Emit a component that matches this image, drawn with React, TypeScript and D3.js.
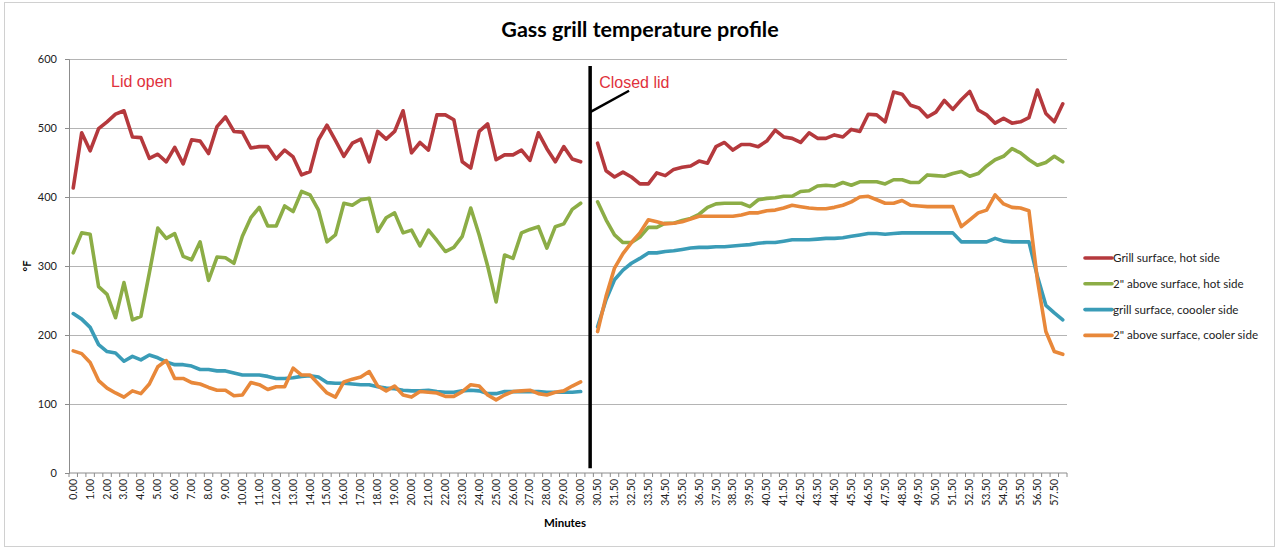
import * as d3 from "d3";
import { useEffect, useRef } from "react";

// Minutes since start; 30.25 is the empty gap where the lid was closed
const MINUTES = [
  0, 0.5, 1, 1.5, 2, 2.5, 3, 3.5, 4, 4.5, 5, 5.5, 6, 6.5, 7, 7.5, 8, 8.5, 9, 9.5,
  10, 10.5, 11, 11.5, 12, 12.5, 13, 13.5, 14, 14.5, 15, 15.5, 16, 16.5, 17, 17.5,
  18, 18.5, 19, 19.5, 20, 20.5, 21, 21.5, 22, 22.5, 23, 23.5, 24, 24.5, 25, 25.5,
  26, 26.5, 27, 27.5, 28, 28.5, 29, 29.5, 30, 30.25,
  30.5, 31, 31.5, 32, 32.5, 33, 33.5, 34, 34.5, 35, 35.5, 36, 36.5, 37, 37.5, 38,
  38.5, 39, 39.5, 40, 40.5, 41, 41.5, 42, 42.5, 43, 43.5, 44, 44.5, 45, 45.5, 46,
  46.5, 47, 47.5, 48, 48.5, 49, 49.5, 50, 50.5, 51, 51.5, 52, 52.5, 53, 53.5, 54,
  54.5, 55, 55.5, 56, 56.5, 57, 57.5, 58,
];

const GRILL_HOT = [
  413, 493, 467, 499, 509, 520, 525, 487, 486, 456, 462, 451, 472, 448, 483, 481,
  463, 502, 516, 495, 494, 471, 473, 473, 455, 468, 458, 432, 437, 483, 504, 482,
  459, 478, 484, 451, 495, 484, 495, 525, 464, 479, 468, 519, 519, 512, 451, 442,
  495, 506, 454, 461, 461, 468, 453, 493, 470, 451, 473, 455, 451, null,
  478, 438, 429, 436, 429, 419, 419, 435, 431, 440, 443, 445, 452, 449, 473, 479,
  468, 476, 476, 473, 481, 497, 487, 485, 479, 493, 485, 485, 490, 487, 498, 495,
  520, 519, 509, 552, 549, 533, 529, 516, 523, 540, 527, 541, 553, 526, 519, 507,
  514, 507, 509, 515, 555, 521, 509, 535,
];

const ABOVE_HOT = [
  319, 348, 346, 270, 259, 225, 276, 222, 227, 290, 355, 340, 347, 314, 309, 335,
  279, 313, 312, 304, 343, 370, 385, 358, 358, 387, 379, 408, 403, 381, 335, 345,
  391, 388, 396, 398, 350, 370, 377, 348, 352, 329, 352, 337, 321, 327, 343, 384,
  345, 300, 248, 316, 311, 348, 353, 357, 326, 357, 361, 382, 391, null,
  393, 367, 345, 334, 334, 342, 356, 356, 362, 362, 366, 369, 375, 385, 390, 391,
  391, 391, 386, 396, 398, 399, 401, 401, 408, 409, 416, 417, 416, 421, 417, 422,
  422, 422, 419, 425, 425, 421, 421, 432, 431, 430, 434, 437, 430, 434, 445, 454,
  459, 470, 464, 454, 446, 450, 459, 451,
];

const GRILL_COOL = [
  231, 223, 211, 186, 176, 174, 162, 169, 164, 171, 167, 161, 157, 157, 155, 150,
  150, 148, 148, 145, 142, 142, 142, 140, 137, 137, 138, 140, 141, 139, 131, 130,
  130, 129, 128, 128, 125, 123, 122, 120, 119, 119, 120, 118, 117, 117, 119, 120,
  119, 115, 115, 118, 118, 118, 118, 118, 117, 117, 117, 117, 118, null,
  212, 251, 280, 294, 304, 311, 319, 319, 321, 322, 324, 326, 327, 327, 328, 328,
  329, 330, 331, 333, 334, 334, 336, 338, 338, 338, 339, 340, 340, 341, 343, 345,
  347, 347, 346, 347, 348, 348, 348, 348, 348, 348, 348, 335, 335, 335, 335, 340,
  336, 335, 335, 335, 285, 243, 232, 222,
];

const ABOVE_COOL = [
  177, 173, 160, 134, 123, 116, 110, 119, 115, 129, 154, 163, 137, 137, 131, 129,
  124, 120, 120, 112, 113, 131, 128, 121, 125, 125, 152, 142, 142, 129, 116, 110,
  132, 136, 139, 147, 126, 119, 126, 113, 110, 118, 117, 116, 111, 111, 118, 128,
  126, 113, 106, 113, 118, 119, 120, 115, 113, 117, 119, 126, 132, null,
  205, 256, 297, 318, 334, 348, 367, 364, 361, 362, 364, 368, 372, 372, 372, 372,
  372, 374, 377, 377, 380, 381, 384, 388, 386, 384, 383, 383, 385, 388, 393, 400,
  401, 396, 391, 391, 395, 388, 387, 386, 386, 386, 386, 357, 367, 377, 381, 403,
  390, 385, 384, 380, 280, 205, 176, 172,
];

const SERIES = [
  { name: "Grill surface, hot side", values: GRILL_HOT, color: "#b5393d" },
  { name: "2\" above surface, hot side", values: ABOVE_HOT, color: "#8cad46" },
  { name: "grill surface, coooler side", values: GRILL_COOL, color: "#3a9cb7" },
  { name: "2\" above surface, cooler side", values: ABOVE_COOL, color: "#e8883a" },
];

const Y_TICKS = [0, 100, 200, 300, 400, 500, 600];
const GAP_INDEX = 61;

const FONT = "Lato, 'Open Sans', sans-serif";

export default function App() {
  const svgRef = useRef<SVGSVGElement>(null);
  const width = 1280;
  const height = 550;

  useEffect(() => {
    if (!svgRef.current) return;
    const svg = d3.select(svgRef.current);
    svg.selectAll("*").remove();

    const m = { top: 59, right: 213, bottom: 77, left: 69 };
    const w = width - m.left - m.right;
    const h = height - m.top - m.bottom;

    // chart area frame
    svg
      .append("rect")
      .attr("x", 4.5)
      .attr("y", 2.5)
      .attr("width", 1270)
      .attr("height", 544)
      .attr("fill", "#fff")
      .attr("stroke", "#d0d0d0");

    const g = svg.append("g").attr("transform", `translate(${m.left},${m.top})`);

    const idx = MINUTES.map((_, i) => String(i));
    const x = d3.scaleBand<string>().domain(idx).range([0, w]).padding(0);
    const xc = (i: number) => (x(String(i)) ?? 0) + x.bandwidth() / 2;
    const y = d3.scaleLinear().domain([0, 600]).range([h, 0]);

    // horizontal gridlines
    g.append("g")
      .call(d3.axisLeft(y).tickValues(Y_TICKS.slice(1)).tickSize(-w).tickFormat(() => ""))
      .call((s) => s.selectAll("line").attr("stroke", "#b4b4b4").attr("stroke-width", 1))
      .call((s) => s.select("path.domain").remove());

    // y axis
    g.append("g")
      .call(d3.axisLeft(y).tickValues(Y_TICKS).tickSize(4).tickPadding(8))
      .call((s) => s.select("path.domain").attr("stroke", "#8c8c8c"))
      .call((s) => s.selectAll("line").attr("stroke", "#8c8c8c"))
      .selectAll("text")
      .attr("font-family", FONT)
      .attr("font-size", 11)
      .attr("fill", "#222");

    // x axis: tick between every category, label every other one
    const xAxis = g.append("g").attr("transform", `translate(0,${h})`);
    xAxis
      .append("line")
      .attr("x1", 0)
      .attr("x2", w)
      .attr("stroke", "#8c8c8c");
    xAxis
      .selectAll("line.tk")
      .data(d3.range(MINUTES.length + 1))
      .enter()
      .append("line")
      .attr("class", "tk")
      .attr("x1", (i) => i * x.step())
      .attr("x2", (i) => i * x.step())
      .attr("y1", 0)
      .attr("y2", 4)
      .attr("stroke", "#8c8c8c");
    xAxis
      .selectAll("text")
      .data(MINUTES.map((v, i) => ({ v, i })).filter((d) => d.i % 2 === 0))
      .enter()
      .append("text")
      .attr("transform", (d) => `translate(${xc(d.i) + 3.5},${6}) rotate(-90)`)
      .attr("text-anchor", "end")
      .attr("font-family", FONT)
      .attr("font-size", 10.5)
      .attr("fill", "#222")
      .text((d) => d.v.toFixed(2));

    // series
    const line = d3
      .line<number | null>()
      .defined((d) => d != null)
      .x((_, i) => xc(i))
      .y((d) => y(d as number));

    SERIES.forEach((s) => {
      g.append("path")
        .datum(s.values)
        .attr("d", line)
        .attr("fill", "none")
        .attr("stroke", s.color)
        .attr("stroke-width", 3.6)
        .attr("stroke-linejoin", "round")
        .attr("stroke-linecap", "round");
    });

    // lid closed marker
    g.append("line")
      .attr("x1", xc(GAP_INDEX) + 1)
      .attr("x2", xc(GAP_INDEX) + 1)
      .attr("y1", y(590))
      .attr("y2", y(7))
      .attr("stroke", "#000")
      .attr("stroke-width", 3.5);
    g.append("line")
      .attr("x1", xc(GAP_INDEX) + 1)
      .attr("y1", y(523))
      .attr("x2", xc(GAP_INDEX) + 1 + 4.6 * x.step())
      .attr("y2", y(554))
      .attr("stroke", "#000")
      .attr("stroke-width", 2.5);

    g.append("text")
      .attr("x", xc(4) + 4)
      .attr("y", y(559))
      .attr("font-family", "'Liberation Sans', Arial, sans-serif")
      .attr("font-size", 16)
      .attr("fill", "#e0313c")
      .text("Lid open");
    g.append("text")
      .attr("x", xc(GAP_INDEX) + 10)
      .attr("y", y(558))
      .attr("font-family", "'Liberation Sans', Arial, sans-serif")
      .attr("font-size", 16)
      .attr("fill", "#e0313c")
      .text("Closed lid");

    // legend
    const lg = svg.append("g").attr("transform", "translate(1085,258)");
    SERIES.forEach((s, i) => {
      const row = lg.append("g").attr("transform", `translate(0,${i * 25.8})`);
      row
        .append("line")
        .attr("x1", 0)
        .attr("x2", 27)
        .attr("stroke", s.color)
        .attr("stroke-width", 3.6)
        .attr("stroke-linecap", "round");
      row
        .append("text")
        .attr("x", 28)
        .attr("y", 4)
        .attr("font-family", FONT)
        .attr("font-size", 11.6)
        .attr("fill", "#222")
        .text(s.name);
    });

    // titles
    svg
      .append("text")
      .attr("x", 640)
      .attr("y", 37)
      .attr("text-anchor", "middle")
      .attr("font-family", FONT)
      .attr("font-weight", "bold")
      .attr("font-size", 21.5)
      .attr("fill", "#000")
      .text("Gass grill temperature profile");
    svg
      .append("text")
      .attr("x", 565)
      .attr("y", 527)
      .attr("text-anchor", "middle")
      .attr("font-family", FONT)
      .attr("font-weight", "bold")
      .attr("font-size", 11.5)
      .attr("fill", "#000")
      .text("Minutes");
    svg
      .append("text")
      .attr("transform", `translate(31,${m.top + h / 2}) rotate(-90)`)
      .attr("text-anchor", "middle")
      .attr("font-family", FONT)
      .attr("font-weight", "bold")
      .attr("font-size", 11)
      .attr("fill", "#000")
      .text("°F");
  }, []);

  return (
    <>
      <style>{"body{margin:0}"}</style>
      <svg ref={svgRef} width={width} height={height} style={{ display: "block" }} />
    </>
  );
}
